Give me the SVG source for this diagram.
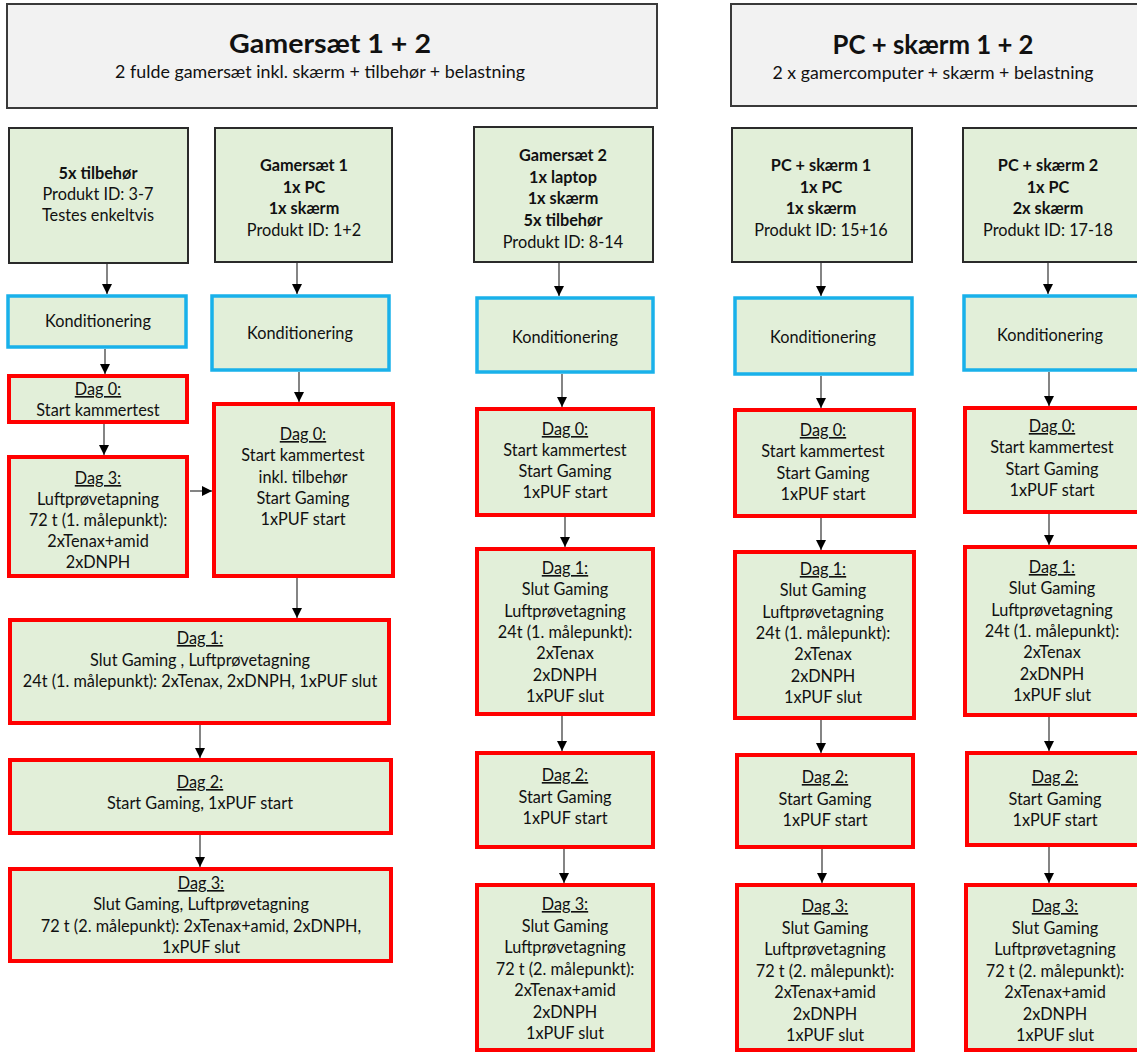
<svg xmlns="http://www.w3.org/2000/svg" width="1137" height="1052" viewBox="0 0 1137 1052">
<defs>
<marker id="ah" viewBox="0 0 10 10" refX="10" refY="5" markerWidth="10" markerHeight="10" markerUnits="userSpaceOnUse" orient="auto">
<path d="M0,0 L10,5 L0,10 Z" fill="#000"/>
</marker>
<style>
text{font-family:Lato,"Open Sans","Liberation Sans",sans-serif;font-size:16.3px;fill:#111;text-anchor:middle}
.hdr{fill:#f2f2f2;stroke:#3a3a3a;stroke-width:2}
.top{fill:#e2efd9;stroke:#2a2a2a;stroke-width:2}
.kon{fill:#e2efd9;stroke:#19b1ea;stroke-width:3.5}
.red{fill:#e2efd9;stroke:#ff0000;stroke-width:4}
.b{font-weight:bold}
.u{text-decoration:underline}
.t1{font-size:27.5px;font-weight:bold}
.t2{font-size:17.5px}
#connectors line{stroke:#333;stroke-width:1.2;marker-end:url(#ah)}
</style>
</defs>
<rect width="1137" height="1052" fill="#fff"/>

<g id="hdr1"><rect class="hdr" x="7" y="4" width="650" height="104"/>
<text class="t1" x="330" y="53" textLength="202" lengthAdjust="spacingAndGlyphs">Gamersæt 1 + 2</text>
<text class="t2" x="320" y="78" textLength="410" lengthAdjust="spacingAndGlyphs">2 fulde gamersæt inkl. skærm + tilbehør + belastning</text></g>
<g id="hdr2"><rect class="hdr" x="731" y="4" width="420" height="102"/>
<text class="t1" x="933" y="54" textLength="201" lengthAdjust="spacingAndGlyphs">PC + skærm 1 + 2</text>
<text class="t2" x="933" y="79" textLength="321" lengthAdjust="spacingAndGlyphs">2 x gamercomputer + skærm + belastning</text></g>

<!-- Top boxes -->
<g id="boxA"><rect class="top" x="9" y="128" width="179" height="135"/>
<text x="98" y="179"><tspan class="b">5x tilbehør</tspan><tspan x="98" dy="21">Produkt ID: 3-7</tspan><tspan x="98" dy="21">Testes enkeltvis</tspan></text></g>
<g id="boxB"><rect class="top" x="215" y="128" width="177" height="134"/>
<text x="304" y="171"><tspan class="b">Gamersæt 1</tspan><tspan class="b" x="304" dy="21.5">1x PC</tspan><tspan class="b" x="304" dy="21.5">1x skærm</tspan><tspan x="304" dy="21.5">Produkt ID: 1+2</tspan></text></g>
<g id="boxC"><rect class="top" x="474" y="127" width="179" height="135"/>
<text x="563" y="161"><tspan class="b">Gamersæt 2</tspan><tspan class="b" x="563" dy="21.7">1x laptop</tspan><tspan class="b" x="563" dy="21.7">1x skærm</tspan><tspan class="b" x="563" dy="21.7">5x tilbehør</tspan><tspan x="563" dy="21.7">Produkt ID: 8-14</tspan></text></g>
<g id="boxD"><rect class="top" x="732" y="128" width="180" height="134"/>
<text x="821" y="171"><tspan class="b">PC + skærm 1</tspan><tspan class="b" x="821" dy="21.5">1x PC</tspan><tspan class="b" x="821" dy="21.5">1x skærm</tspan><tspan x="821" dy="21.5">Produkt ID: 15+16</tspan></text></g>
<g id="boxE"><rect class="top" x="963" y="128" width="180" height="134"/>
<text x="1048" y="171"><tspan class="b">PC + skærm 2</tspan><tspan class="b" x="1048" dy="21.5">1x PC</tspan><tspan class="b" x="1048" dy="21.5">2x skærm</tspan><tspan x="1048" dy="21.5">Produkt ID: 17-18</tspan></text></g>

<!-- Konditionering -->
<g id="konA"><rect class="kon" x="8" y="296" width="178" height="51"/><text x="98" y="327">Konditionering</text></g>
<g id="konB"><rect class="kon" x="212" y="296" width="177" height="74"/><text x="300" y="339">Konditionering</text></g>
<g id="konC"><rect class="kon" x="477" y="298" width="176" height="74"/><text x="565" y="343">Konditionering</text></g>
<g id="konD"><rect class="kon" x="735" y="298" width="177" height="76"/><text x="823" y="343">Konditionering</text></g>
<g id="konE"><rect class="kon" x="964" y="296" width="180" height="74"/><text x="1050" y="341">Konditionering</text></g>

<!-- Column A/B -->
<g id="a0"><rect class="red" x="9" y="376" width="178" height="46"/>
<text x="98" y="395"><tspan class="u">Dag 0:</tspan><tspan x="98" dy="21">Start kammertest</tspan></text></g>
<g id="a3"><rect class="red" x="9" y="457" width="178" height="119"/>
<text x="98" y="484"><tspan class="u">Dag 3:</tspan><tspan x="98" dy="21">Luftprøvetapning</tspan><tspan x="98" dy="21">72 t (1. målepunkt):</tspan><tspan x="98" dy="21">2xTenax+amid</tspan><tspan x="98" dy="21">2xDNPH</tspan></text></g>
<g id="b0"><rect class="red" x="214" y="404" width="179" height="172"/>
<text x="303" y="440"><tspan class="u">Dag 0:</tspan><tspan x="303" dy="21.3">Start kammertest</tspan><tspan x="303" dy="21.3">inkl. tilbehør</tspan><tspan x="303" dy="21.3">Start Gaming</tspan><tspan x="303" dy="21.3">1xPUF start</tspan></text></g>
<g id="ab1"><rect class="red" x="10" y="620" width="379" height="103"/>
<text x="200" y="644"><tspan class="u">Dag 1:</tspan><tspan x="200" dy="21.5">Slut Gaming , Luftprøvetagning</tspan><tspan x="200" dy="21.5">24t (1. målepunkt): 2xTenax, 2xDNPH, 1xPUF slut</tspan></text></g>
<g id="ab2"><rect class="red" x="10" y="760" width="381" height="73"/>
<text x="200" y="788"><tspan class="u">Dag 2:</tspan><tspan x="200" dy="21">Start Gaming, 1xPUF start</tspan></text></g>
<g id="ab3"><rect class="red" x="10" y="869" width="381" height="92"/>
<text x="201" y="889"><tspan class="u">Dag 3:</tspan><tspan x="201" dy="21.3">Slut Gaming, Luftprøvetagning</tspan><tspan x="201" dy="21.3">72 t (2. målepunkt): 2xTenax+amid, 2xDNPH,</tspan><tspan x="201" dy="21.3">1xPUF slut</tspan></text></g>

<!-- Column C -->
<g id="c0"><rect class="red" x="477" y="409" width="176" height="106"/>
<text x="565" y="435"><tspan class="u">Dag 0:</tspan><tspan x="565" dy="21">Start kammertest</tspan><tspan x="565" dy="21">Start Gaming</tspan><tspan x="565" dy="21">1xPUF start</tspan></text></g>
<g id="c1"><rect class="red" x="477" y="549" width="176" height="165"/>
<text x="565" y="574"><tspan class="u">Dag 1:</tspan><tspan x="565" dy="21.3">Slut Gaming</tspan><tspan x="565" dy="21.3">Luftprøvetagning</tspan><tspan x="565" dy="21.3">24t (1. målepunkt):</tspan><tspan x="565" dy="21.3">2xTenax</tspan><tspan x="565" dy="21.3">2xDNPH</tspan><tspan x="565" dy="21.3">1xPUF slut</tspan></text></g>
<g id="c2"><rect class="red" x="477" y="753" width="176" height="94"/>
<text x="565" y="781"><tspan class="u">Dag 2:</tspan><tspan x="565" dy="21.5">Start Gaming</tspan><tspan x="565" dy="21.5">1xPUF start</tspan></text></g>
<g id="c3"><rect class="red" x="477" y="885" width="176" height="165"/>
<text x="565" y="910"><tspan class="u">Dag 3:</tspan><tspan x="565" dy="21.5">Slut Gaming</tspan><tspan x="565" dy="21.5">Luftprøvetagning</tspan><tspan x="565" dy="21.5">72 t (2. målepunkt):</tspan><tspan x="565" dy="21.5">2xTenax+amid</tspan><tspan x="565" dy="21.5">2xDNPH</tspan><tspan x="565" dy="21.5">1xPUF slut</tspan></text></g>

<!-- Column D -->
<g id="d0"><rect class="red" x="735" y="410" width="179" height="106"/>
<text x="823" y="436"><tspan class="u">Dag 0:</tspan><tspan x="823" dy="21.3">Start kammertest</tspan><tspan x="823" dy="21.3">Start Gaming</tspan><tspan x="823" dy="21.3">1xPUF start</tspan></text></g>
<g id="d1"><rect class="red" x="735" y="552" width="179" height="166"/>
<text x="823" y="575"><tspan class="u">Dag 1:</tspan><tspan x="823" dy="21.3">Slut Gaming</tspan><tspan x="823" dy="21.3">Luftprøvetagning</tspan><tspan x="823" dy="21.3">24t (1. målepunkt):</tspan><tspan x="823" dy="21.3">2xTenax</tspan><tspan x="823" dy="21.3">2xDNPH</tspan><tspan x="823" dy="21.3">1xPUF slut</tspan></text></g>
<g id="d2"><rect class="red" x="737" y="755" width="176" height="92"/>
<text x="825" y="783"><tspan class="u">Dag 2:</tspan><tspan x="825" dy="21.5">Start Gaming</tspan><tspan x="825" dy="21.5">1xPUF start</tspan></text></g>
<g id="d3"><rect class="red" x="737" y="885" width="176" height="165"/>
<text x="825" y="912"><tspan class="u">Dag 3:</tspan><tspan x="825" dy="21.5">Slut Gaming</tspan><tspan x="825" dy="21.5">Luftprøvetagning</tspan><tspan x="825" dy="21.5">72 t (2. målepunkt):</tspan><tspan x="825" dy="21.5">2xTenax+amid</tspan><tspan x="825" dy="21.5">2xDNPH</tspan><tspan x="825" dy="21.5">1xPUF slut</tspan></text></g>

<!-- Column E -->
<g id="e0"><rect class="red" x="965" y="408" width="180" height="104"/>
<text x="1052" y="432"><tspan class="u">Dag 0:</tspan><tspan x="1052" dy="21.3">Start kammertest</tspan><tspan x="1052" dy="21.3">Start Gaming</tspan><tspan x="1052" dy="21.3">1xPUF start</tspan></text></g>
<g id="e1"><rect class="red" x="965" y="547" width="180" height="168"/>
<text x="1052" y="573"><tspan class="u">Dag 1:</tspan><tspan x="1052" dy="21.3">Slut Gaming</tspan><tspan x="1052" dy="21.3">Luftprøvetagning</tspan><tspan x="1052" dy="21.3">24t (1. målepunkt):</tspan><tspan x="1052" dy="21.3">2xTenax</tspan><tspan x="1052" dy="21.3">2xDNPH</tspan><tspan x="1052" dy="21.3">1xPUF slut</tspan></text></g>
<g id="e2"><rect class="red" x="967" y="753" width="180" height="92"/>
<text x="1055" y="783"><tspan class="u">Dag 2:</tspan><tspan x="1055" dy="21.5">Start Gaming</tspan><tspan x="1055" dy="21.5">1xPUF start</tspan></text></g>
<g id="e3"><rect class="red" x="966" y="885" width="180" height="165"/>
<text x="1055" y="912"><tspan class="u">Dag 3:</tspan><tspan x="1055" dy="21.5">Slut Gaming</tspan><tspan x="1055" dy="21.5">Luftprøvetagning</tspan><tspan x="1055" dy="21.5">72 t (2. målepunkt):</tspan><tspan x="1055" dy="21.5">2xTenax+amid</tspan><tspan x="1055" dy="21.5">2xDNPH</tspan><tspan x="1055" dy="21.5">1xPUF slut</tspan></text></g>

<g id="connectors">
<line x1="107" y1="264" x2="107" y2="294"/>
<line x1="105" y1="349" x2="105" y2="374"/>
<line x1="104" y1="424" x2="104" y2="455"/>
<line x1="190" y1="491" x2="212" y2="491"/>
<line x1="297" y1="263" x2="297" y2="294"/>
<line x1="299" y1="372" x2="299" y2="402"/>
<line x1="297" y1="578" x2="297" y2="618"/>
<line x1="200" y1="725" x2="200" y2="758"/>
<line x1="200" y1="835" x2="200" y2="867"/>
<line x1="559" y1="263" x2="559" y2="296"/>
<line x1="562" y1="374" x2="562" y2="407"/>
<line x1="565" y1="517" x2="565" y2="547"/>
<line x1="562" y1="716" x2="562" y2="751"/>
<line x1="564" y1="849" x2="564" y2="883"/>
<line x1="821" y1="263" x2="821" y2="296"/>
<line x1="821" y1="376" x2="821" y2="408"/>
<line x1="821" y1="518" x2="821" y2="550"/>
<line x1="821" y1="720" x2="821" y2="753"/>
<line x1="822" y1="849" x2="822" y2="883"/>
<line x1="1048" y1="263" x2="1048" y2="294"/>
<line x1="1049" y1="372" x2="1049" y2="406"/>
<line x1="1049" y1="514" x2="1049" y2="545"/>
<line x1="1049" y1="717" x2="1049" y2="751"/>
<line x1="1049" y1="847" x2="1049" y2="883"/>
</g>
</svg>
